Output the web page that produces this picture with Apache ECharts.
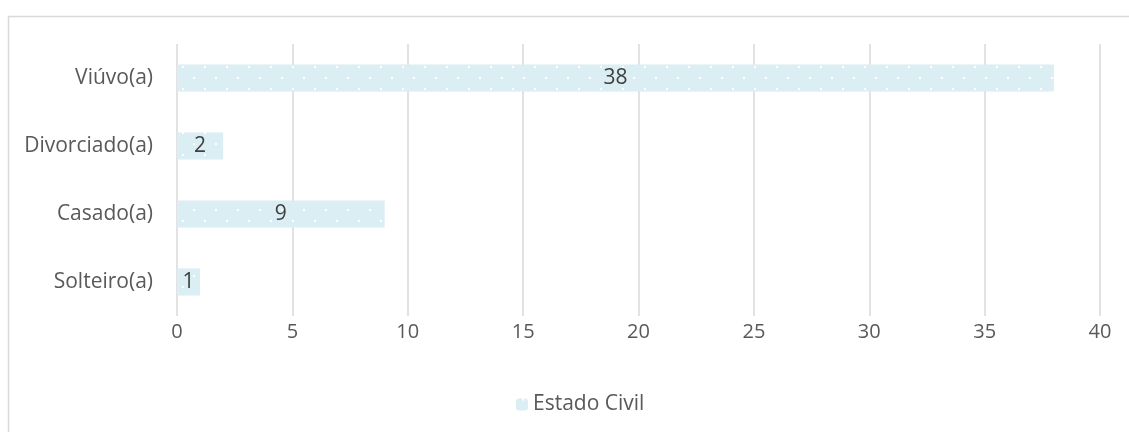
<!DOCTYPE html>
<html><head><meta charset="utf-8">
<script src="https://cdn.jsdelivr.net/npm/echarts@6/dist/echarts.min.js"></script>
<style>html,body{margin:0;padding:0;background:#fff}#c{width:1129px;height:432px}</style>
</head><body><div id="c"></div>
<script>
const categories = ['Solteiro(a)', 'Casado(a)', 'Divorciado(a)', 'Viúvo(a)'];
const values = [1, 9, 2, 38];
const seriesName = 'Estado Civil';

// dotted pattern fill
const pc = document.createElement('canvas');
pc.width = 22; pc.height = 22;
const g = pc.getContext('2d');
g.fillStyle = '#DAEEF3'; g.fillRect(0, 0, 22, 22);
g.fillStyle = '#ffffff';
g.fillRect(6, 0, 2, 2);
g.fillRect(17, 11, 2, 2);

const chart = echarts.init(document.getElementById('c'));
const font = '"Open Sans", sans-serif';
chart.setOption({
  animation: false,
  textStyle: { fontFamily: font },
  graphic: [{ type: 'rect', left: 6, top: 14, shape: { width: 1300, height: 600 }, style: { fill: 'none', stroke: '#D9D9D9', lineWidth: 1.5 }, silent: true }],
  grid: { left: 177, right: 29, top: 44, bottom: 116 },
  legend: { top: 389, left: 511, itemWidth: 12, itemHeight: 12, itemGap: 10,
    textStyle: { fontFamily: font, fontSize: 21, color: '#595959' }, data: [seriesName] },
  xAxis: { type: 'value', min: 0, max: 40, interval: 5,
    axisLine: { show: false }, axisTick: { show: false },
    splitLine: { lineStyle: { color: '#D9D9D9', width: 1.5 } },
    axisLabel: { fontFamily: font, fontSize: 20, color: '#595959', margin: 6 } },
  yAxis: { type: 'category', data: categories,
    axisLine: { show: false }, axisTick: { show: false },
    axisLabel: { fontFamily: font, fontSize: 21, color: '#595959', margin: 24 } },
  series: [{ name: seriesName, type: 'bar', data: values, barWidth: '40%',
    itemStyle: { color: { image: pc, repeat: 'repeat' } },
    label: { show: true, position: 'inside', fontFamily: font, fontSize: 21, color: '#404040' } }]
});
</script></body></html>
